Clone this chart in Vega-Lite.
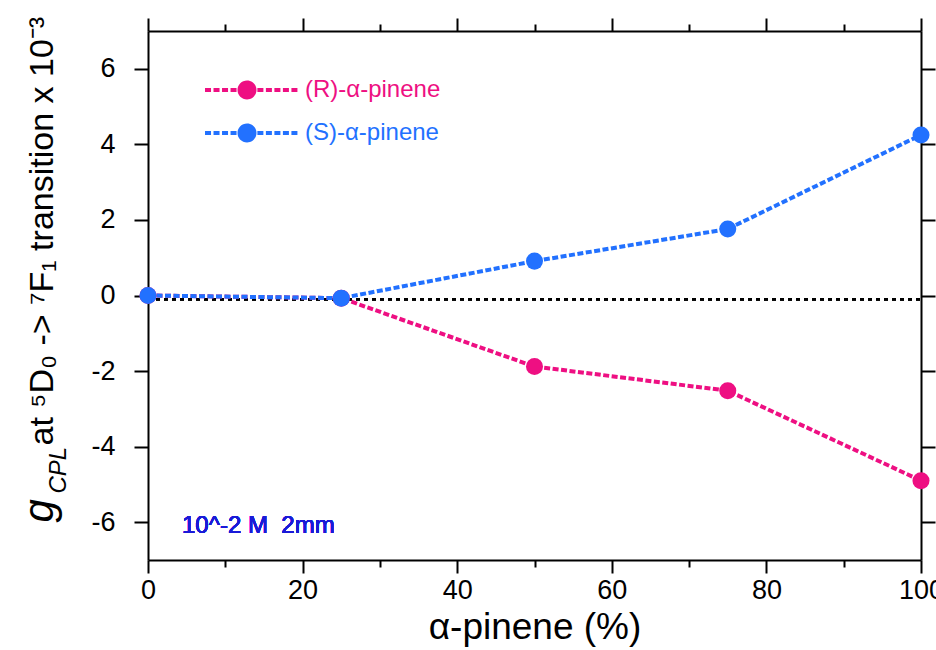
{
  "$schema": "https://vega.github.io/schema/vega-lite/v6.json",
  "width": 773,
  "height": 529,
  "autosize": {"type": "none"},
  "padding": {"left": 148, "top": 31, "right": 15, "bottom": 90},
  "background": "white",
  "config": {
    "font": "Liberation Sans",
    "view": {"stroke": null},
    "axis": {
      "grid": false,
      "domainColor": "black",
      "domainWidth": 2,
      "tickColor": "black",
      "tickWidth": 2,
      "labelColor": "black",
      "titleColor": "black",
      "labelFont": "Liberation Sans",
      "titleFont": "Liberation Sans",
      "labelFontSize": 27,
      "titleFontSize": 34,
      "titleFontWeight": "normal"
    }
  },
  "data": {
    "values": [
      {"pct": 0, "g": 0, "series": "(R)-α-pinene"},
      {"pct": 25, "g": -0.07, "series": "(R)-α-pinene"},
      {"pct": 50, "g": -1.88, "series": "(R)-α-pinene"},
      {"pct": 75, "g": -2.52, "series": "(R)-α-pinene"},
      {"pct": 100, "g": -4.9, "series": "(R)-α-pinene"},
      {"pct": 0, "g": 0, "series": "(S)-α-pinene"},
      {"pct": 25, "g": -0.07, "series": "(S)-α-pinene"},
      {"pct": 50, "g": 0.91, "series": "(S)-α-pinene"},
      {"pct": 75, "g": 1.76, "series": "(S)-α-pinene"},
      {"pct": 100, "g": 4.25, "series": "(S)-α-pinene"}
    ]
  },
  "layer": [
    {
      "mark": {"type": "rule", "color": "black", "strokeWidth": 2, "strokeDash": [4, 4]},
      "encoding": {
        "x": {"datum": 0, "type": "quantitative", "scale": {"domain": [0, 100], "nice": false},
          "axis": {"orient": "bottom", "values": [10, 30, 50, 70, 90], "tickSize": 7, "labels": false, "domain": false, "title": null}},
        "x2": {"datum": 100},
        "y": {"datum": -0.1, "type": "quantitative", "scale": {"domain": [-7, 7], "nice": false},
          "axis": {"orient": "left", "ticks": false, "labels": false, "domain": false,
            "title": "g", "titleFontStyle": "italic", "titleFontSize": 42, "titleAngle": 270,
            "titleAlign": "left", "titleBaseline": "alphabetic", "titleX": -96, "titleY": 491}}
      }
    },
    {
      "mark": {"type": "line", "strokeWidth": 4, "strokeDash": [6, 2.5]},
      "encoding": {
        "x": {"field": "pct", "type": "quantitative", "scale": {"domain": [0, 100], "nice": false},
          "axis": {"orient": "bottom", "values": [0, 20, 40, 60, 80, 100], "tickSize": 13, "labelPadding": 4,
            "labelFlush": false, "title": "α-pinene (%)", "titleFontSize": 37, "titlePadding": 6}},
        "y": {"field": "g", "type": "quantitative", "scale": {"domain": [-7, 7], "nice": false},
          "axis": {"orient": "left", "values": [-6, -4, -2, 0, 2, 4, 6], "tickSize": 14, "labelPadding": 19,
            "labelFlush": false,
            "labelExpr": "datum.value < 0 ? '-' + abs(datum.value) : '' + datum.value",
            "title": "at ⁵D₀ -> ⁷F₁ transition x 10⁻³", "titleAngle": 270, "titleAlign": "left",
            "titleBaseline": "alphabetic", "titleX": -96, "titleY": 414}},
        "color": {"field": "series", "type": "nominal",
          "scale": {"domain": ["(R)-α-pinene", "(S)-α-pinene"], "range": ["#EE0F82", "#2271FF"]},
          "legend": null}
      }
    },
    {
      "mark": {"type": "point", "filled": true, "opacity": 1, "size": 290},
      "encoding": {
        "x": {"field": "pct", "type": "quantitative", "scale": {"domain": [0, 100], "nice": false},
          "axis": {"orient": "top", "values": [0, 20, 40, 60, 80, 100], "tickSize": 13, "labels": false, "title": null}},
        "y": {"field": "g", "type": "quantitative", "scale": {"domain": [-7, 7], "nice": false},
          "axis": {"orient": "right", "values": [-6, -4, -2, 0, 2, 4, 6], "tickSize": 14, "labels": false, "title": null}},
        "color": {"field": "series", "type": "nominal",
          "scale": {"domain": ["(R)-α-pinene", "(S)-α-pinene"], "range": ["#EE0F82", "#2271FF"]},
          "legend": {
            "orient": "none", "legendX": 74, "legendY": 28.5, "title": null, "padding": 0,
            "symbolType": "M-1.557,-0.066h0.197v0.132h-0.197Z M-1.278,-0.066h0.197v0.132h-0.197Z M-0.999,-0.066h0.197v0.132h-0.197Z M-0.72,-0.066h0.197v0.132h-0.197Z M0.16,-0.066h0.197v0.132h-0.197Z M0.439,-0.066h0.197v0.132h-0.197Z M0.718,-0.066h0.197v0.132h-0.197Z M0.997,-0.066h0.197v0.132h-0.197Z M1.276,-0.066h0.197v0.132h-0.197Z M-0.491,0A0.311,0.311,0,1,0,0.131,0A0.311,0.311,0,1,0,-0.491,0Z",
            "symbolSize": 3721, "symbolStrokeWidth": 0, "symbolOpacity": 1,
            "labelFont": "Liberation Sans", "labelFontSize": 24, "labelOffset": 22, "rowPadding": 0,
            "encode": {
              "labels": {"update": {"fill": {"signal": "datum.value == '(R)-α-pinene' ? '#EE0F82' : '#2271FF'"}}},
              "symbols": {"update": {"fill": {"signal": "datum.value == '(R)-α-pinene' ? '#EE0F82' : '#2271FF'"}, "stroke": {"value": "transparent"}}}
            }
          }}
      }
    },
    {
      "mark": {"type": "text", "align": "left", "baseline": "middle", "fontSize": 24, "color": "#1A1AD8", "font": "Liberation Sans"},
      "encoding": {
        "x": {"datum": 4.4, "type": "quantitative", "scale": {"domain": [0, 100], "nice": false},
          "axis": {"orient": "top", "values": [10, 30, 50, 70, 90], "tickSize": 7, "labels": false, "domain": false, "title": null}},
        "y": {"datum": -6.1, "type": "quantitative", "scale": {"domain": [-7, 7], "nice": false},
          "axis": {"orient": "left", "ticks": false, "labels": false, "domain": false,
            "title": "CPL", "titleFontStyle": "italic", "titleFontSize": 24, "titleAngle": 270,
            "titleAlign": "left", "titleBaseline": "alphabetic", "titleX": -83, "titleY": 462}},
        "text": {"value": "10^-2 M\u00a0 2mm"}
      }
    }
  ],
  "resolve": {
    "scale": {"x": "shared", "y": "shared", "color": "shared"},
    "axis": {"x": "independent", "y": "independent"},
    "legend": {"color": "independent"}
  }
}
